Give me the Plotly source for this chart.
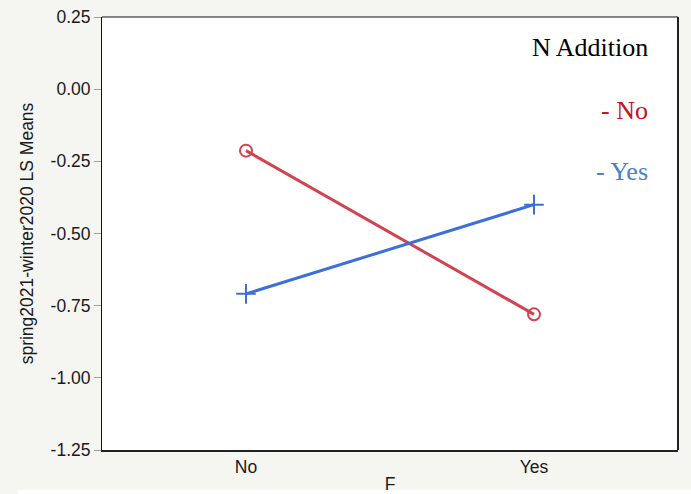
import plotly.graph_objects as go

# LS means of spring2021-winter2020 by F, split by N Addition
f_levels = ["No", "Yes"]
n_no = [-0.213, -0.780]
n_yes = [-0.709, -0.400]
y_ticks = [0.25, 0.00, -0.25, -0.50, -0.75, -1.00, -1.25]
y_tick_text = ["0.25", "0.00", "-0.25", "-0.50", "-0.75", "-1.00", "-1.25"]

RED_LINE = "#d2434f"
BLUE_LINE = "#3d6fdc"
RED_TEXT = "#c8101e"
BLUE_TEXT = "#4a7fc9"
SANS = "Liberation Sans, Arial, sans-serif"
SERIF = "Liberation Serif, Times New Roman, serif"

fig = go.Figure()
fig.add_trace(go.Scatter(
    x=f_levels, y=n_no, mode="lines+markers",
    line=dict(color=RED_LINE, width=3),
    marker=dict(symbol="circle-open", size=12, color=RED_LINE, line=dict(width=2)),
    showlegend=False,
))
fig.add_trace(go.Scatter(
    x=f_levels, y=n_yes, mode="lines+markers",
    line=dict(color=BLUE_LINE, width=3),
    marker=dict(symbol="cross-thin-open", size=14, color=BLUE_LINE, line=dict(width=2, color=BLUE_LINE)),
    showlegend=False,
))

fig.update_layout(
    width=691, height=494,
    margin=dict(l=102, r=13, t=17, b=44, autoexpand=False),
    paper_bgcolor="#f5f5f1",
    plot_bgcolor="#ffffff",
    font=dict(family=SANS, size=17.5, color="#1a1a1a"),
    xaxis=dict(
        type="category", range=[-0.5, 1.5], automargin=False,
        showgrid=False, zeroline=False,
        showline=True, linecolor="#222222", linewidth=2,
        ticks="", tickfont=dict(size=17.5),
        title=dict(text="F", font=dict(size=17.5), standoff=11),
    ),
    yaxis=dict(
        range=[-1.25, 0.25], automargin=False,
        tickvals=y_ticks, ticktext=y_tick_text,
        showgrid=False, zeroline=False,
        showline=True, linecolor="#111111", linewidth=1,
        ticks="outside", ticklen=7, tickcolor="#a0a0a0", tickwidth=1,
        tickfont=dict(size=17.5),
        title=dict(text="spring2021-winter2020 LS Means", font=dict(size=17.5), standoff=12),
    ),
    shapes=[
        # top and right edges of the frame
        dict(type="line", xref="paper", yref="paper", x0=0, x1=1, y0=1, y1=1,
             line=dict(color="#111111", width=1)),
        dict(type="line", xref="paper", yref="paper", x0=1, x1=1, y0=0, y1=1,
             line=dict(color="#222222", width=2)),
        # white strip along the bottom edge of the page
        dict(type="rect", xref="paper", yref="paper", x0=-0.1458, x1=1.03,
             y0=-0.11, y1=-0.0924, line=dict(width=0), fillcolor="#ffffff", layer="below"),
    ],
    annotations=[
        dict(text="N Addition", xref="paper", yref="paper", x=0.951, y=0.930,
             xanchor="right", yanchor="middle", showarrow=False,
             font=dict(family=SERIF, size=26, color="#000000")),
        dict(text="- No", xref="paper", yref="paper", x=0.951, y=0.785,
             xanchor="right", yanchor="middle", showarrow=False,
             font=dict(family=SERIF, size=26, color=RED_TEXT)),
        dict(text="- Yes", xref="paper", yref="paper", x=0.951, y=0.643,
             xanchor="right", yanchor="middle", showarrow=False,
             font=dict(family=SERIF, size=26, color=BLUE_TEXT)),
    ],
)

fig.write_html("out.html")
